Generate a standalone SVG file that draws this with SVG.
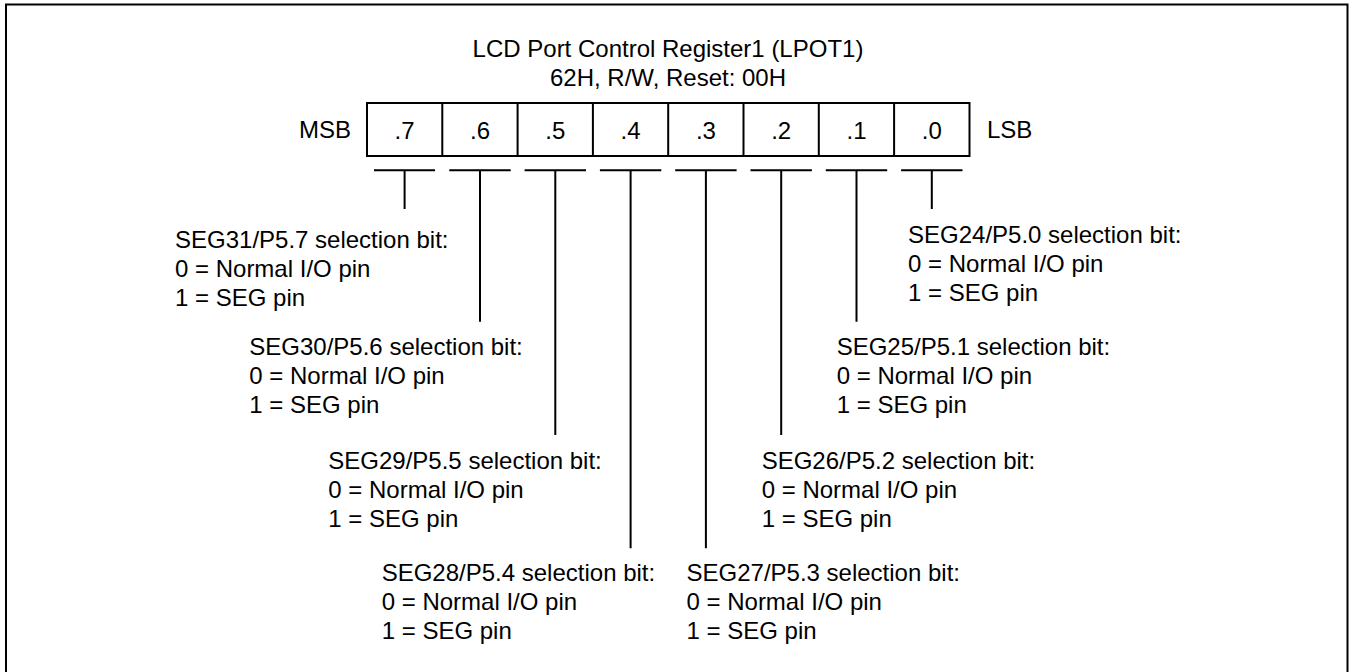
<svg xmlns="http://www.w3.org/2000/svg" width="1353" height="672" viewBox="0 0 1353 672">
<style>
text{font-family:"Liberation Sans",Arial,Helvetica,sans-serif;font-size:24px;fill:#000}
.ln{stroke:#000;stroke-width:2;fill:none}
.c{text-anchor:middle}
</style>
<rect width="1353" height="672" fill="#fff"/>
<path class="ln" d="M6,672 V4.5 H1347.5 V672" stroke-width="2.5"/>
<g id="title">
<text class="c" x="668" y="57">LCD Port Control Register1 (LPOT1)</text>
<text class="c" x="668" y="86">62H, R/W, Reset: 00H</text>
</g>
<g id="register">
<rect class="ln" x="367" y="103" width="602.5" height="53"/>
<path class="ln" stroke-width="1.6" d="M442.3,103V156M517.6,103V156M592.9,103V156M668.2,103V156M743.5,103V156M818.8,103V156M894.1,103V156"/>
<text x="351" y="138" style="text-anchor:end">MSB</text>
<text x="987" y="138">LSB</text>
<text class="c" x="404.6" y="139">.7</text>
<text class="c" x="480" y="139">.6</text>
<text class="c" x="555.3" y="139">.5</text>
<text class="c" x="630.6" y="139">.4</text>
<text class="c" x="705.9" y="139">.3</text>
<text class="c" x="781.2" y="139">.2</text>
<text class="c" x="856.5" y="139">.1</text>
<text class="c" x="931.8" y="139">.0</text>
</g>
<g id="connectors">
<path class="ln" d="M374,170.3H435M404.6,170.3V209"/>
<path class="ln" d="M449.3,170.3H510.7M480,170.3V321.7"/>
<path class="ln" d="M524.6,170.3H586M555.3,170.3V435"/>
<path class="ln" d="M599.9,170.3H661.3M630.6,170.3V548.3"/>
<path class="ln" d="M675.2,170.3H736.6M705.9,170.3V548.3"/>
<path class="ln" d="M750.5,170.3H811.9M781.2,170.3V435"/>
<path class="ln" d="M825.8,170.3H887.2M856.5,170.3V321.7"/>
<path class="ln" d="M901.1,170.3H962.5M931.8,170.3V209"/>
</g>
<g id="bit7">
<text x="175" y="248">SEG31/P5.7 selection bit:</text>
<text x="175" y="277">0 = Normal I/O pin</text>
<text x="175" y="306">1 = SEG pin</text>
</g>
<g id="bit6">
<text x="249.3" y="355.3">SEG30/P5.6 selection bit:</text>
<text x="249.3" y="384.3">0 = Normal I/O pin</text>
<text x="249.3" y="413.3">1 = SEG pin</text>
</g>
<g id="bit5">
<text x="328.3" y="468.8">SEG29/P5.5 selection bit:</text>
<text x="328.3" y="497.8">0 = Normal I/O pin</text>
<text x="328.3" y="526.8">1 = SEG pin</text>
</g>
<g id="bit4">
<text x="381.7" y="580.5">SEG28/P5.4 selection bit:</text>
<text x="381.7" y="609.5">0 = Normal I/O pin</text>
<text x="381.7" y="638.5">1 = SEG pin</text>
</g>
<g id="bit3">
<text x="686.5" y="580.5">SEG27/P5.3 selection bit:</text>
<text x="686.5" y="609.5">0 = Normal I/O pin</text>
<text x="686.5" y="638.5">1 = SEG pin</text>
</g>
<g id="bit2">
<text x="761.7" y="468.8">SEG26/P5.2 selection bit:</text>
<text x="761.7" y="497.8">0 = Normal I/O pin</text>
<text x="761.7" y="526.8">1 = SEG pin</text>
</g>
<g id="bit1">
<text x="836.7" y="355.3">SEG25/P5.1 selection bit:</text>
<text x="836.7" y="384.3">0 = Normal I/O pin</text>
<text x="836.7" y="413.3">1 = SEG pin</text>
</g>
<g id="bit0">
<text x="908" y="243">SEG24/P5.0 selection bit:</text>
<text x="908" y="272">0 = Normal I/O pin</text>
<text x="908" y="301">1 = SEG pin</text>
</g>
</svg>
